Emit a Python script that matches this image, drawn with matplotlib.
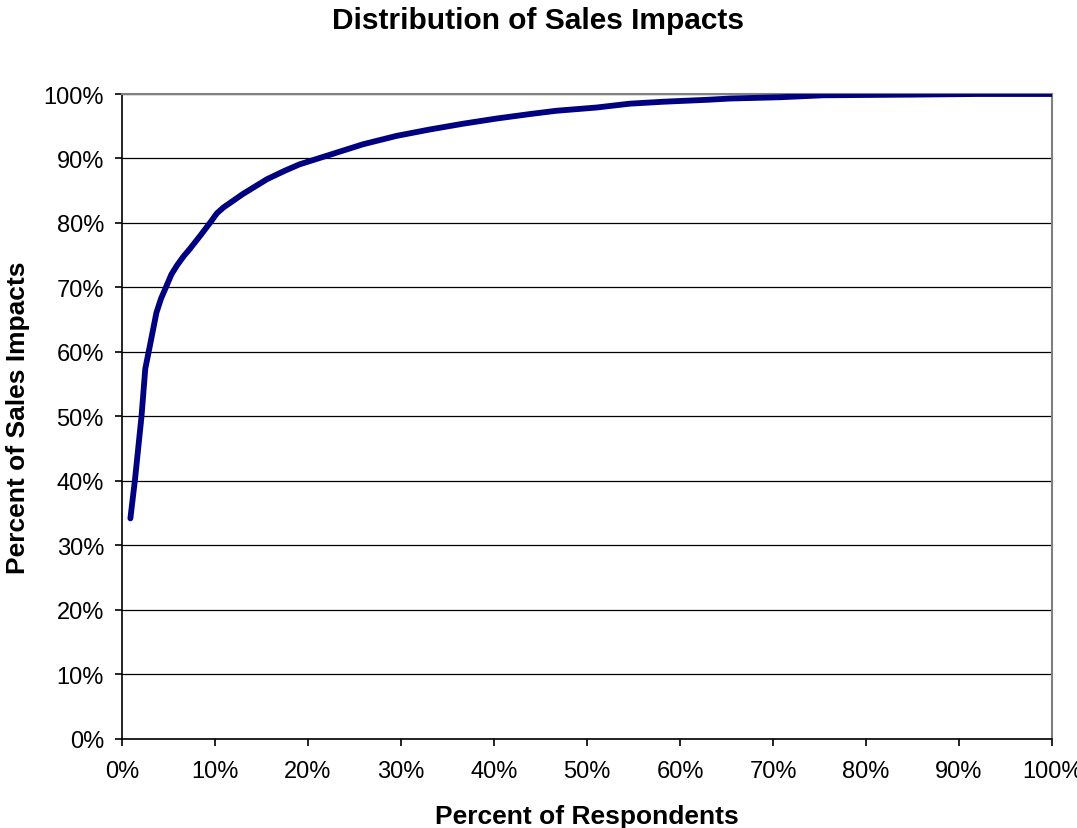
import matplotlib.pyplot as plt
from matplotlib.ticker import PercentFormatter, MultipleLocator

plt.rcParams['font.family'] = ['Liberation Sans', 'DejaVu Sans']

# cumulative share of respondents vs cumulative share of sales impacts
pct_respondents = [0.009, 0.014, 0.021, 0.025, 0.030, 0.037, 0.042, 0.048, 0.053,
                   0.059, 0.066, 0.073, 0.085, 0.095, 0.102, 0.109, 0.130, 0.156,
                   0.175, 0.191, 0.224, 0.259, 0.295, 0.331, 0.367, 0.403, 0.439,
                   0.467, 0.510, 0.546, 0.582, 0.629, 0.654, 0.708, 0.754, 0.846,
                   0.920, 1.000]
pct_sales = [0.342, 0.403, 0.501, 0.574, 0.610, 0.661, 0.683, 0.703, 0.720,
             0.734, 0.748, 0.760, 0.782, 0.801, 0.815, 0.824, 0.845, 0.868,
             0.881, 0.891, 0.906, 0.922, 0.935, 0.945, 0.954, 0.962, 0.969,
             0.974, 0.979, 0.985, 0.988, 0.991, 0.993, 0.995, 0.998, 0.999,
             1.000, 1.000]

fig = plt.figure(figsize=(10.77, 8.29), dpi=100)
ax = fig.add_axes([0.1133, 0.1074, 0.8635, 0.778])

ax.plot(pct_respondents, pct_sales, color='#000080', linewidth=4.2,
        solid_capstyle='round', solid_joinstyle='round', zorder=3)

ax.set_xlim(0, 1)
ax.set_ylim(0, 1)
ax.xaxis.set_major_locator(MultipleLocator(0.1))
ax.yaxis.set_major_locator(MultipleLocator(0.1))
ax.xaxis.set_major_formatter(PercentFormatter(1, decimals=0))
ax.yaxis.set_major_formatter(PercentFormatter(1, decimals=0))

ax.grid(axis='y', color='black', linewidth=0.9)
ax.set_axisbelow(True)
ax.spines['top'].set_color('#808080')
ax.spines['right'].set_color('#808080')
ax.spines['top'].set_linewidth(1.5)
ax.spines['right'].set_linewidth(1.5)
ax.spines['left'].set_linewidth(1.2)
ax.spines['bottom'].set_linewidth(1.2)

ax.tick_params(axis='x', labelsize=17, length=5, width=1.2, pad=10)
ax.tick_params(axis='y', labelsize=17, length=5, width=1.2, pad=8)

ax.set_xlabel('Percent of Respondents', fontsize=19, fontweight='bold', labelpad=16)
ax.set_ylabel('Percent of Sales Impacts', fontsize=19, fontweight='bold', labelpad=10)
fig.suptitle('Distribution of Sales Impacts', fontsize=21.5, fontweight='bold', y=0.992)

fig.savefig('out.png', dpi=100)
